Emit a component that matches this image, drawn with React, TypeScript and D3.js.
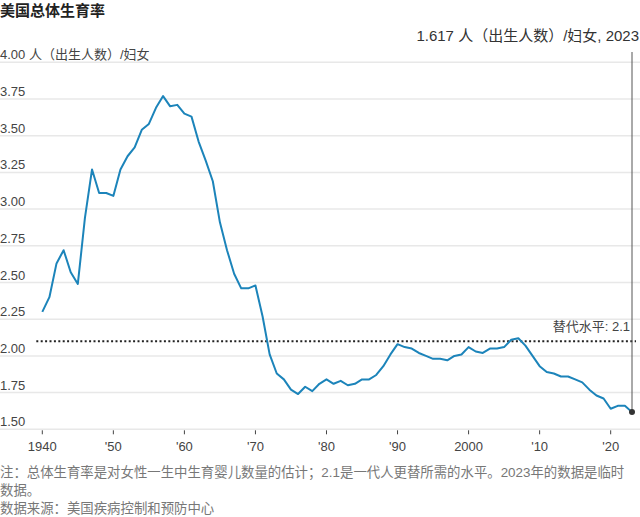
import React from 'react';
import * as d3 from 'd3';

// US total fertility rate, births per woman (2023 provisional)
const years = d3.range(1940, 2024);
const tfr = [
  2.30, 2.40, 2.63, 2.72, 2.57, 2.49, 2.94, 3.27, 3.11, 3.11,
  3.09, 3.27, 3.36, 3.42, 3.54, 3.58, 3.69, 3.77, 3.70, 3.71,
  3.65, 3.63, 3.46, 3.33, 3.19, 2.91, 2.72, 2.56, 2.46, 2.46,
  2.48, 2.27, 2.01, 1.88, 1.84, 1.77, 1.74, 1.79, 1.76, 1.81,
  1.84, 1.81, 1.83, 1.80, 1.81, 1.84, 1.84, 1.87, 1.93, 2.01,
  2.08, 2.06, 2.05, 2.02, 2.00, 1.98, 1.98, 1.97, 2.00, 2.01,
  2.06, 2.03, 2.02, 2.05, 2.05, 2.06, 2.11, 2.12, 2.07, 2.00,
  1.93, 1.89, 1.88, 1.86, 1.86, 1.84, 1.82, 1.77, 1.73, 1.71,
  1.64, 1.66, 1.66, 1.617,
];
const yTicks = [1.5, 1.75, 2.0, 2.25, 2.5, 2.75, 3.0, 3.25, 3.5, 3.75, 4.0];
const xTicks = [1940, 1950, 1960, 1970, 1980, 1990, 2000, 2010, 2020];
const xTickLabels = ['1940', "'50", "'60", "'70", "'80", "'90", '2000', "'10", "'20"];
const replacement = 2.1;

const noteLines = [
  '注：总体生育率是对女性一生中生育婴儿数量的估计；2.1是一代人更替所需的水平。2023年的数据是临时',
  '数据。',
  '数据来源：美国疾病控制和预防中心',
];

const W = 640;
const H = 517;
const FONT = '"Liberation Sans", Arial, "Noto Sans CJK SC", sans-serif';

export default function App() {
  const x = d3.scaleLinear().domain([1940, 2023]).range([42.3, 632]);
  const y = d3.scaleLinear().domain([1.5, 4.0]).range([429.3, 62.3]);

  const line = d3
    .line<number>()
    .x((_, i) => x(years[i]))
    .y((d) => y(d));

  const lastYear = years[years.length - 1];
  const lastVal = tfr[tfr.length - 1];

  return (
    <svg
      width={W}
      height={H}
      style={{ position: 'absolute', left: 0, top: 0, fontFamily: FONT }}
    >
      <rect width={W} height={H} fill="#fff" />
      <text x={0} y={16} fontSize={15} fontWeight="bold" fill="#222">
        美国总体生育率
      </text>

      {/* gridlines + y labels */}
      {yTicks.map((t) => (
        <g key={t}>
          <line x1={0} x2={W} y1={y(t)} y2={y(t)} stroke="#e8e8e8" strokeWidth={1.5} />
          <text x={0} y={y(t) - 3} fontSize={13} fill="#444">
            {t === 4 ? '4.00 人（出生人数）/妇女' : t.toFixed(2)}
          </text>
        </g>
      ))}

      {/* x axis */}
      {xTicks.map((t, i) => (
        <g key={t}>
          <line x1={x(t)} x2={x(t)} y1={y(1.5) + 1} y2={y(1.5) + 5} stroke="#444" strokeWidth={1} />
          <text x={x(t)} y={451} fontSize={13} fill="#444" textAnchor="middle">
            {xTickLabels[i]}
          </text>
        </g>
      ))}

      {/* replacement level */}
      <line
        x1={x(1940) - 6}
        x2={W - 4}
        y1={y(replacement)}
        y2={y(replacement)}
        stroke="#222"
        strokeWidth={2}
        strokeDasharray="2 2.4"
      />
      <text x={630} y={y(replacement) - 10} fontSize={13} fill="#444" textAnchor="end">
        替代水平: 2.1
      </text>

      {/* latest value annotation */}
      <line
        x1={x(lastYear)}
        x2={x(lastYear)}
        y1={52}
        y2={y(lastVal)}
        stroke="#555"
        strokeWidth={1}
      />
      <text x={639} y={41} fontSize={15} fill="#333" textAnchor="end">
        1.617 人（出生人数）/妇女, 2023
      </text>

      <path d={line(tfr) ?? ''} fill="none" stroke="#1c84ba" strokeWidth={2} strokeLinejoin="round" />
      <circle cx={x(lastYear)} cy={y(lastVal)} r={3} fill="#333" />

      {noteLines.map((s, i) => (
        <text key={i} x={0} y={477 + i * 18} fontSize={13.4} fill="#777">
          {s}
        </text>
      ))}
    </svg>
  );
}
